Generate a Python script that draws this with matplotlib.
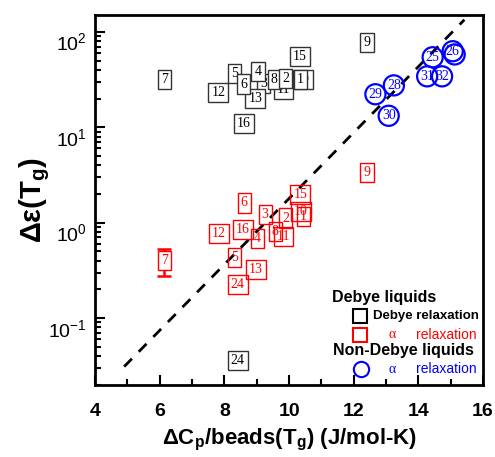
import matplotlib
matplotlib.use('Agg')
import matplotlib.pyplot as plt
import matplotlib.transforms as mtransforms
from matplotlib.ticker import MultipleLocator, LogLocator

plt.rcParams['font.family'] = ['Liberation Sans', 'DejaVu Sans']
plt.rcParams['mathtext.fontset'] = 'custom'
plt.rcParams['mathtext.rm'] = 'Liberation Sans:bold'
plt.rcParams['mathtext.it'] = 'Liberation Sans:bold'
plt.rcParams['mathtext.bf'] = 'Liberation Sans:bold'
plt.rcParams['mathtext.default'] = 'rm'

# Debye liquids, Debye relaxation (black)
debye_lab = ['3', '11', '10', '5', '13', '12', '16', '4', '6', '8', '2', '1', '15', '7', '9', '24']
debye_x = [9.22, 9.83, 10.43, 8.31, 8.96, 7.81, 8.60, 9.04, 8.60, 9.54, 9.90, 10.35, 10.33, 6.14, 12.41, 8.41]
debye_y = [28.5, 24.7, 32.0, 37.0, 19.9, 23.4, 10.9, 38.6, 28.4, 31.5, 32.8, 31.5, 55.5, 32.0, 76.6, 0.0356]

# Debye liquids, alpha relaxation (red)
alpha_lab = ['15', '10', '1', '2', '3', '6', '16', '12', '4', '8', '11', '5', '13', '24', '9']
alpha_x = [10.35, 10.37, 10.45, 9.90, 9.26, 8.61, 8.56, 7.82, 9.03, 9.57, 9.83, 8.30, 8.98, 8.41, 12.41]
alpha_y = [1.97, 1.31, 1.17, 1.12, 1.22, 1.61, 0.85, 0.766, 0.69, 0.81, 0.71, 0.43, 0.32, 0.224, 3.36]

# liquid 7, alpha relaxation with error bar
a7_x = [6.14]
a7_y = [0.40]
a7_lo = [0.125]
a7_hi = [0.13]

# Non-Debye liquids, alpha relaxation (blue)
nd_lab = ['26', '', '25', '31', '32', '28', '29', '30']
nd_x = [15.06, 15.12, 14.44, 14.27, 14.73, 13.24, 12.67, 13.08]
nd_y = [62.7, 58.0, 54.2, 34.2, 34.2, 27.5, 22.2, 13.2]

# dashed guide line
line_x = [4.9, 15.42]
line_y = [0.031, 134]

fig = plt.figure(figsize=(4.95, 4.57), dpi=100)
ax = fig.add_axes([0.192, 0.158, 0.784, 0.809])

ax.plot(line_x, line_y, color='k', lw=2, linestyle=(0, (4, 3.5)), zorder=1)

serif = ['Liberation Serif', 'DejaVu Serif']

for x, y, s in zip(debye_x, debye_y, debye_lab):
    ax.text(x, y, s, ha='center', va='center', fontsize=10, family=serif, color='k',
            bbox=dict(boxstyle='square,pad=0.22', fc='white', ec='#333333', lw=1.0), zorder=3)

for x, y, s in zip(alpha_x, alpha_y, alpha_lab):
    ax.text(x, y, s, ha='center', va='center', fontsize=10, family=serif, color='red',
            bbox=dict(boxstyle='square,pad=0.22', fc='none', ec='red', lw=1.0), zorder=3)

ax.errorbar(a7_x, a7_y, yerr=[a7_lo, a7_hi], fmt='none', ecolor='red', elinewidth=1.8,
            capsize=5, capthick=1.8, zorder=2)
for x, y in zip(a7_x, a7_y):
    ax.text(x, y, '7', ha='center', va='center', fontsize=10, family=serif, color='red',
            bbox=dict(boxstyle='square,pad=0.22', fc='white', ec='red', lw=1.0), zorder=3)

ax.scatter(nd_x, nd_y, s=210, facecolors='none', edgecolors='blue', linewidths=1.6, zorder=3)
for x, y, s in zip(nd_x, nd_y, nd_lab):
    ax.text(x, y, s, ha='center', va='center', fontsize=10, family=serif, color='blue', zorder=4)

ax.set_xlim(4, 16)
ax.set_yscale('log')
ax.set_ylim(0.02, 150)
ax.xaxis.set_major_locator(MultipleLocator(2))
ax.xaxis.set_minor_locator(MultipleLocator(1))
ax.yaxis.set_minor_locator(LogLocator(base=10, subs=range(2, 10), numticks=20))

ax.tick_params(which='both', direction='in', width=1.5, labelsize=14)
ax.tick_params(which='major', length=7)
ax.tick_params(which='minor', length=4)
ax.tick_params(axis='x', pad=13)
ax.tick_params(axis='y', pad=6)
for lab in ax.get_xticklabels():
    lab.set_fontweight('bold')
fig.canvas.draw()
shift = mtransforms.ScaledTranslation(0, -7 / 72, fig.dpi_scale_trans)
for lab in ax.get_yticklabels():
    lab.set_transform(lab.get_transform() + shift)
for sp in ax.spines.values():
    sp.set_linewidth(2)

ax.set_xlabel(r'$\Delta$C$_p$/beads(T$_g$) (J/mol-K)', fontsize=16, fontweight='bold', labelpad=5)
ax.set_ylabel(r'$\Delta\varepsilon$(T$_g$)', fontsize=21, fontweight='bold', labelpad=-3)

# legend drawn by hand
tr = ax.transAxes
ax.text(0.611, 0.236, 'Debye liquids', transform=tr, fontsize=11.5, fontweight='bold', va='center')
ax.plot([0.683], [0.185], 's', ms=10, mfc='none', mec='k', mew=1.5, transform=tr)
ax.text(0.716, 0.185, 'Debye relaxation', transform=tr, fontsize=9.5, fontweight='bold', va='center')
ax.plot([0.683], [0.135], 's', ms=10, mfc='none', mec='red', mew=1.5, transform=tr)
ax.text(0.756, 0.135, '\u03b1', transform=tr, fontsize=10, family=serif, color='red', va='center')
ax.text(0.827, 0.135, 'relaxation', transform=tr, fontsize=10, color='red', va='center')
ax.text(0.614, 0.092, 'Non-Debye liquids', transform=tr, fontsize=11.5, fontweight='bold', va='center')
ax.plot([0.686], [0.042], 'o', ms=11, mfc='none', mec='blue', mew=1.5, transform=tr)
ax.text(0.756, 0.042, '\u03b1', transform=tr, fontsize=10, family=serif, color='blue', va='center')
ax.text(0.827, 0.042, 'relaxation', transform=tr, fontsize=10, color='blue', va='center')

fig.savefig('out.png', dpi=100)
